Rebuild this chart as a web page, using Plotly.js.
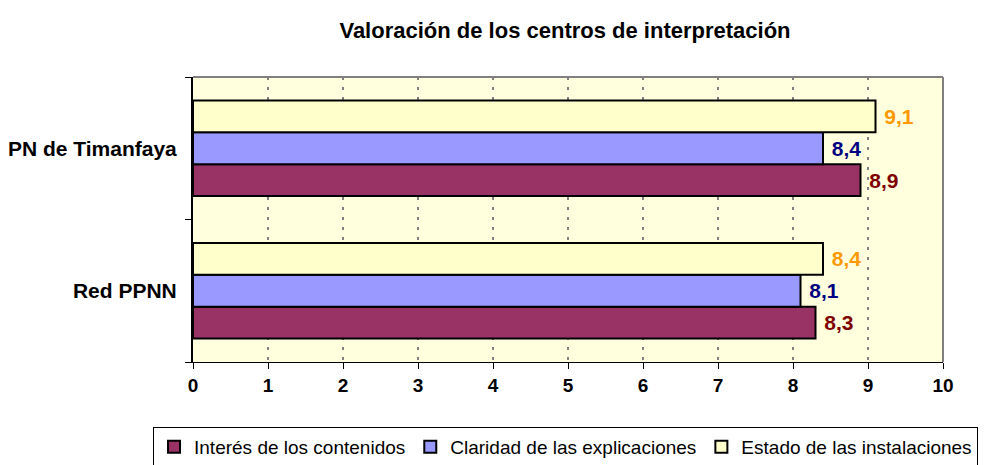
<!DOCTYPE html>
<html>
<head>
<meta charset="utf-8">
<script src="https://cdn.plot.ly/plotly-3.0.1.min.js"></script>
<style>body{margin:0;background:#fff}#chart{width:1007px;height:465px}</style>
</head>
<body>
<div id="chart"></div>
<script>
var centros = ['Red PPNN', 'PN de Timanfaya']
var interes = [8.3, 8.9]
var claridad = [8.1, 8.4]
var estado = [8.4, 9.1]
var xticks = [0, 1, 2, 3, 4, 5, 6, 7, 8, 9, 10]

function serie(name, vals, fill, txtColor) {
  return {
    type: 'bar',
    orientation: 'h',
    name: name,
    y: centros,
    x: vals,
    marker: {color: fill, line: {color: '#000', width: 2}},
    // nbsp keeps the gap between bar end and label
    texttemplate: '\u00a0%{x:.1f}',
    textposition: 'outside',
    constraintext: 'none',
    cliponaxis: false,
    textfont: {family: 'Liberation Sans, Arial', size: 21, color: txtColor, weight: 'bold'},
    hoverinfo: 'x'
  }
}

var data = [
  serie('Interés de los contenidos', interes, '#993366', '#800000'),
  serie('Claridad de las explicaciones', claridad, '#9999FF', '#000080'),
  serie('Estado de las instalaciones', estado, '#FFFFCC', '#FF9900')
]

var layout = {
  width: 1007,
  height: 465,
  separators: ',.',
  font: {family: 'Liberation Sans, Arial', color: '#000'},
  paper_bgcolor: '#fff',
  plot_bgcolor: '#FFFFDD',
  margin: {l: 193, r: 64, t: 77, b: 103, autoexpand: false},
  title: {
    text: 'Valoración de los centros de interpretación',
    font: {size: 22, weight: 'bold'},
    xref: 'paper', x: 0.496, xanchor: 'center',
    yref: 'container', y: 0.935, yanchor: 'middle'
  },
  barmode: 'group',
  bargap: 0.33,
  bargroupgap: 0,
  showlegend: true,
  legend: {
    orientation: 'h',
    x: -0.0533, xanchor: 'left',
    y: -0.228, yanchor: 'top',
    traceorder: 'normal',
    bordercolor: '#000', borderwidth: 1,
    font: {size: 19}
  },
  xaxis: {
    range: [0, 10],
    tickvals: xticks,
    ticks: 'outside', ticklen: 6, tickcolor: '#000', tickwidth: 1,
    showline: true, linecolor: '#000', linewidth: 1,
    showgrid: true, gridcolor: '#808080', gridwidth: 2, griddash: '3px,7px',
    zeroline: false,
    automargin: false,
    tickfont: {size: 19, weight: 'bold'},
    fixedrange: true
  },
  yaxis: {
    type: 'category',
    tickson: 'boundaries',
    ticks: 'outside', ticklen: 6, tickcolor: '#000', tickwidth: 1,
    showline: true, linecolor: '#000', linewidth: 2,
    showgrid: false,
    automargin: false,
    tickfont: {size: 21, weight: 'bold'},
    ticklabelstandoff: 10,
    fixedrange: true
  },
  shapes: [
    {type: 'line', xref: 'paper', yref: 'paper', x0: 0, x1: 1, y0: 1, y1: 1, line: {color: '#808080', width: 2}},
    {type: 'line', xref: 'paper', yref: 'paper', x0: 1, x1: 1, y0: 0, y1: 1, line: {color: '#808080', width: 2}}
  ]
}

Plotly.newPlot('chart', data, layout, {displayModeBar: false, staticPlot: true})
</script>
</body>
</html>
